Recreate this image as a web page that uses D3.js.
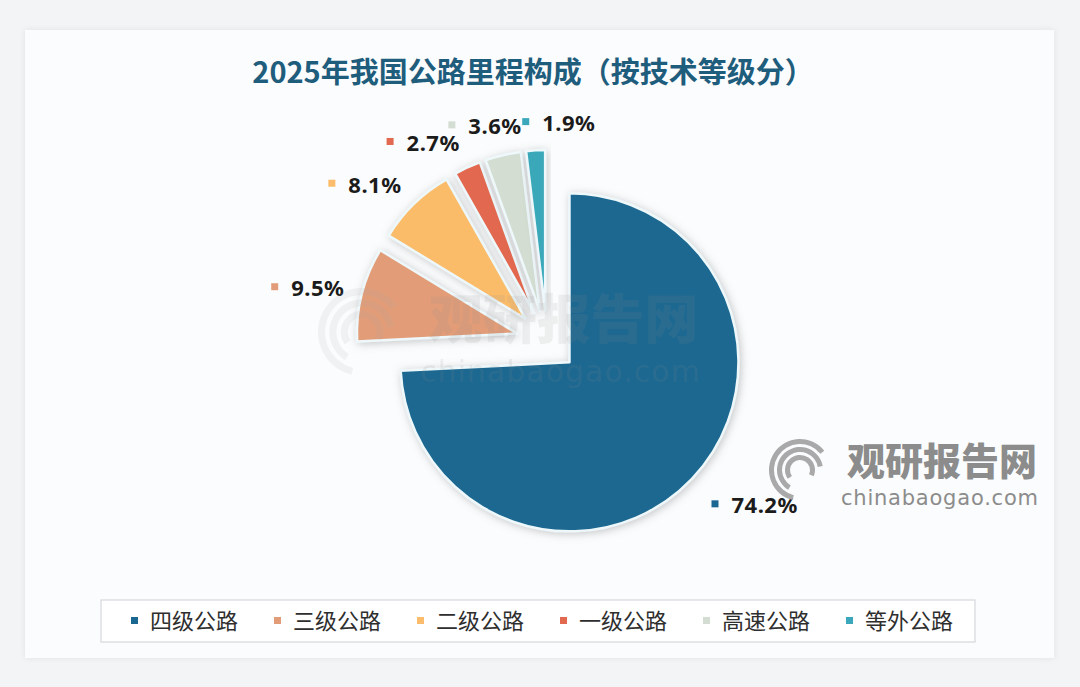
<!DOCTYPE html>
<html>
<head>
<meta charset="utf-8">
<script src="https://cdn.jsdelivr.net/npm/d3@7"></script>
<style>
  html, body { margin: 0; padding: 0; background: #f3f4f6; }
  svg { display: block; }
</style>
</head>
<body>
<svg id="chart" width="1080" height="687"></svg>
<script>
// data
const categories = ["四级公路", "三级公路", "二级公路", "一级公路", "高速公路", "等外公路"];
const shares = [74.2, 9.5, 8.1, 2.7, 3.6, 1.9];
const colors = ["#1a6891", "#e29d78", "#fbbc6b", "#e2684f", "#d3ddd2", "#3aa8ba"];
const title = "2025年我国公路里程构成（按技术等级分）";

const W = 1080, H = 687;
const svg = d3.select("#chart");
const defs = svg.append("defs");

// shadows
const f1 = defs.append("filter").attr("id", "panelShadow")
  .attr("x", "-5%").attr("y", "-5%").attr("width", "110%").attr("height", "110%");
f1.append("feDropShadow").attr("dx", 0).attr("dy", 0).attr("stdDeviation", 3)
  .attr("flood-color", "#b8bcc2").attr("flood-opacity", 0.35);
const f2 = defs.append("filter").attr("id", "sliceShadow")
  .attr("x", "-30%").attr("y", "-30%").attr("width", "160%").attr("height", "160%");
f2.append("feDropShadow").attr("dx", 1.5).attr("dy", 1.5).attr("stdDeviation", 4)
  .attr("flood-color", "#808286").attr("flood-opacity", 0.45);

// background panel
svg.append("rect").attr("width", W).attr("height", H).attr("fill", "#f3f4f6");
svg.append("rect")
  .attr("x", 25).attr("y", 30).attr("width", 1029).attr("height", 628)
  .attr("fill", "#fbfcfd").attr("filter", "url(#panelShadow)");

// title
svg.append("text")
  .attr("x", 533).attr("y", 83)
  .attr("text-anchor", "middle")
  .style("font-family", "'Noto Sans CJK SC', sans-serif")
  .style("font-size", "29px").style("font-weight", "700")
  .style("fill", "#1f5d7d")
  .text(title);

// pie
const cx = 547, cy = 341;   // 圓心
const rBig = 169, rSmall = 160, explode = 31;
const pie = d3.pie().sort(null).value(d => d);
const arcsData = pie(shares);
const radiusOf = d => (d.index === 0 ? rBig : rSmall);
const gapOf = d => (d.index === 0 ? 27 : 18);
const mid = d => (d.startAngle + d.endAngle) / 2;
const offset = (a, r) => [r * Math.sin(a), -r * Math.cos(a)];

const pieG = svg.append("g").attr("transform", "translate(" + cx + "," + cy + ")");
pieG.selectAll("path.slice")
  .data(arcsData)
  .enter()
  .append("path")
  .attr("class", "slice")
  .attr("transform", d => "translate(" + offset(mid(d), explode) + ")")
  .attr("d", d => d3.arc().innerRadius(0).outerRadius(radiusOf(d))(d))
  .attr("fill", (d, i) => colors[i])
  .attr("stroke", "#eef8fb")
  .attr("stroke-width", 2.5)
  .attr("stroke-linejoin", "round")
  .attr("filter", "url(#sliceShadow)");

// labels: outside end, a later label slides on if it hits one before it
const halfH = 10;
const labels = arcsData.map((d, i) => ({
  d: d, i: i, angle: mid(d),
  text: shares[i].toFixed(1) + "%",
  w: 0
}));
const labelG = svg.append("g").attr("transform", "translate(" + cx + "," + cy + ")");
const lbl = labelG.selectAll("g.lbl").data(labels).enter().append("g").attr("class", "lbl");
lbl.append("text")
  .style("font-family", "'Noto Sans', sans-serif")
  .style("font-size", "22px").style("font-weight", "700")
  .style("letter-spacing", "0.5px")
  .style("fill", "#1b1b1b")
  .attr("dominant-baseline", "central")
  .text(d => d.text);
lbl.each(function (d) {
  d.w = this.querySelector("text").getComputedTextLength() + 20;
});

const clamp = v => Math.max(-1, Math.min(1, v));
function boxCenter(l) {
  const a = l.angle;
  const R = radiusOf(l.d) + explode + gapOf(l.d);
  const p = offset(a, R);
  return [p[0] + (l.w / 2) * clamp(4 * Math.sin(a)), p[1] - halfH * Math.cos(a)];
}
function overlap(a, b) {
  const ca = boxCenter(a), cb = boxCenter(b);
  const dy = Math.abs(ca[1] - cb[1]);
  // text part only (square sits on the left)
  const ta = [ca[0] - a.w / 2 + 20, ca[0] + a.w / 2];
  const tb = [cb[0] - b.w / 2 + 20, cb[0] + b.w / 2];
  const textHit = dy < 26 && ta[0] < tb[1] + 8 && tb[0] < ta[1] + 8;
  const boxHit = dy < 12 && Math.abs(ca[0] - cb[0]) < (a.w + b.w) / 2;
  return textHit || boxHit;
}
const sorted = labels.slice().sort((a, b) => a.angle - b.angle);
for (let j = 1; j < sorted.length; j++) {
  let n = 0;
  while (n < 400 && sorted.slice(0, j).some(p => overlap(p, sorted[j]))) {
    sorted[j].angle += 0.003;
    n++;
  }
}

lbl.attr("transform", d => "translate(" + boxCenter(d) + ")");
lbl.append("rect")
  .attr("x", d => -d.w / 2).attr("y", -4)
  .attr("width", 7).attr("height", 7)
  .attr("fill", d => colors[d.i]);
lbl.select("text").attr("x", d => -d.w / 2 + 20);

// legend
const legendG = svg.append("g");
legendG.append("rect")
  .attr("x", 101).attr("y", 600).attr("width", 874).attr("height", 42)
  .attr("fill", "#ffffff").attr("stroke", "#d5d8dc").attr("stroke-width", 1.2);
const lx = d3.scaleBand().domain(categories).range([124, 982]);
const item = legendG.selectAll("g.item").data(categories).enter().append("g")
  .attr("class", "item")
  .attr("transform", d => "translate(" + lx(d) + ",621)");
item.append("rect")
  .attr("x", 7).attr("y", -4).attr("width", 7).attr("height", 7)
  .attr("fill", (d, i) => colors[i]);
item.append("text")
  .attr("x", 26).attr("y", 8)
  .style("font-family", "'Noto Sans CJK SC', sans-serif")
  .style("font-size", "22px")
  .style("fill", "#2e2e2e")
  .text(d => d);

// watermark
function watermark(g, s, op) {
  g.attr("opacity", op);
  const ring = d3.arc();
  [[10, 15, -2.2, 2.0], [18, 23, -2.6, 1.4], [26, 31, -2.9, 0.9]].forEach(r => {
    g.append("path")
      .attr("d", ring({ innerRadius: r[0] * s, outerRadius: r[1] * s, startAngle: r[2], endAngle: r[3] }))
      .attr("fill", "#a9a9a9");
  });
  g.append("text")
    .attr("x", 47 * s).attr("y", 5 * s)
    .style("font-family", "'Noto Sans CJK SC', sans-serif")
    .style("font-size", (38 * s) + "px").style("font-weight", "900")
    .style("fill", "#8c8c8c")
    .text("观研报告网");
  g.append("text")
    .attr("x", 41 * s).attr("y", 35 * s)
    .attr("textLength", 197 * s)
    .style("font-family", "'DejaVu Sans', sans-serif")
    .style("font-size", (21 * s) + "px")
    .style("fill", "#8c8c8c")
    .text("chinabaogao.com");
}
watermark(svg.append("g").attr("transform", "translate(800,470)"), 1, 1);
watermark(svg.append("g").attr("transform", "translate(362,332)"), 1.42, 0.12);
</script>
</body>
</html>
